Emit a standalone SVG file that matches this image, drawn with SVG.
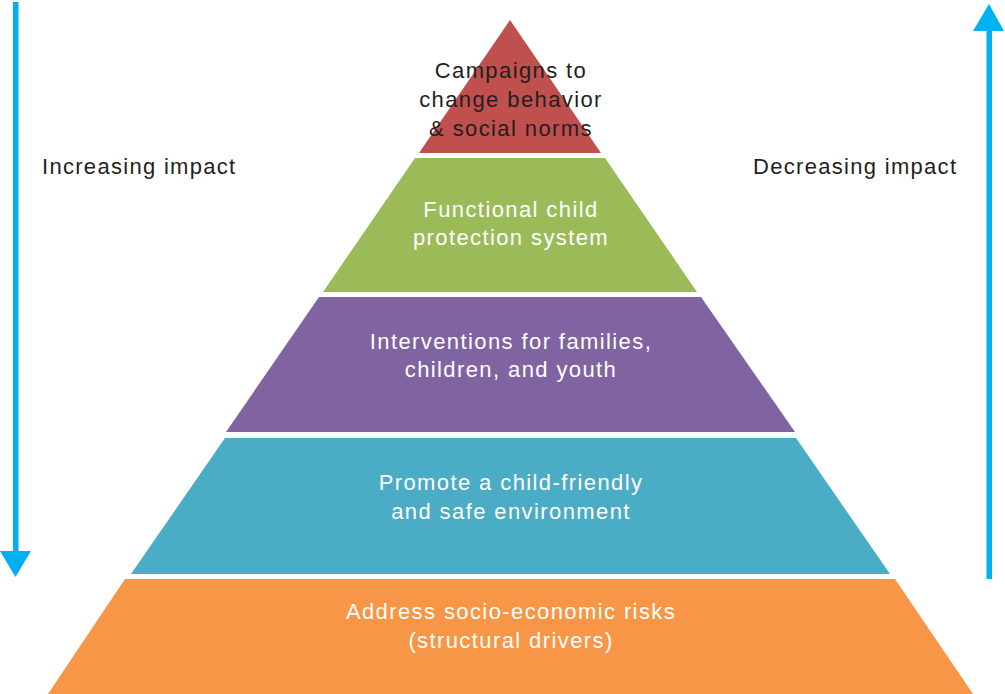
<svg xmlns="http://www.w3.org/2000/svg" width="1005" height="694" viewBox="0 0 1005 694">
<defs>
<style>
.lbl{font-family:"Liberation Sans",Arial,sans-serif;font-size:22px;letter-spacing:1.4px;text-anchor:middle}
.w{fill:#ffffff}
.d{fill:#231f20}
.side{font-family:"Liberation Sans",Arial,sans-serif;font-size:22px;letter-spacing:1.3px;fill:#231f20}
.arrow{fill:#00b0f0}
</style>
</defs>
<rect width="1005" height="694" fill="#ffffff"/>
<g id="connectors">
<rect class="arrow" x="13" y="2" width="5.5" height="552"/>
<polygon class="arrow" points="0,551 31,551 15.5,577"/>
<rect class="arrow" x="986.5" y="29" width="5.5" height="550"/>
<polygon class="arrow" points="973,31 1004,31 989,4"/>
</g>
<g id="label-increasing"><text class="side" x="42" y="174">Increasing impact</text></g>
<g id="label-decreasing"><text class="side" x="753" y="174">Decreasing impact</text></g>
<g id="layer1">
<polygon fill="#c0504d" points="510,20 601,153 419,153"/>
<text class="lbl d" x="511" y="78">Campaigns to</text>
<text class="lbl d" x="511" y="107">change behavior</text>
<text class="lbl d" x="511" y="136">&amp; social norms</text>
</g>
<g id="layer2">
<polygon fill="#9bbb59" points="415,158 605,158 697,292 323,292"/>
<text class="lbl w" x="511" y="217">Functional child</text>
<text class="lbl w" x="511" y="245">protection system</text>
</g>
<g id="layer3">
<polygon fill="#8064a2" points="319,297 701,297 795,432 226,432"/>
<text class="lbl w" x="511" y="349">Interventions for families,</text>
<text class="lbl w" x="511" y="377">children, and youth</text>
</g>
<g id="layer4">
<polygon fill="#4bacc6" points="225,438 796,438 890,574 131,574"/>
<text class="lbl w" x="511" y="490">Promote a child-friendly</text>
<text class="lbl w" x="511" y="519">and safe environment</text>
</g>
<g id="layer5">
<polygon fill="#f79646" points="125,579 895,579 973,694 48,694"/>
<text class="lbl w" x="511" y="619">Address socio-economic risks</text>
<text class="lbl w" x="511" y="648">(structural drivers)</text>
</g>
</svg>
